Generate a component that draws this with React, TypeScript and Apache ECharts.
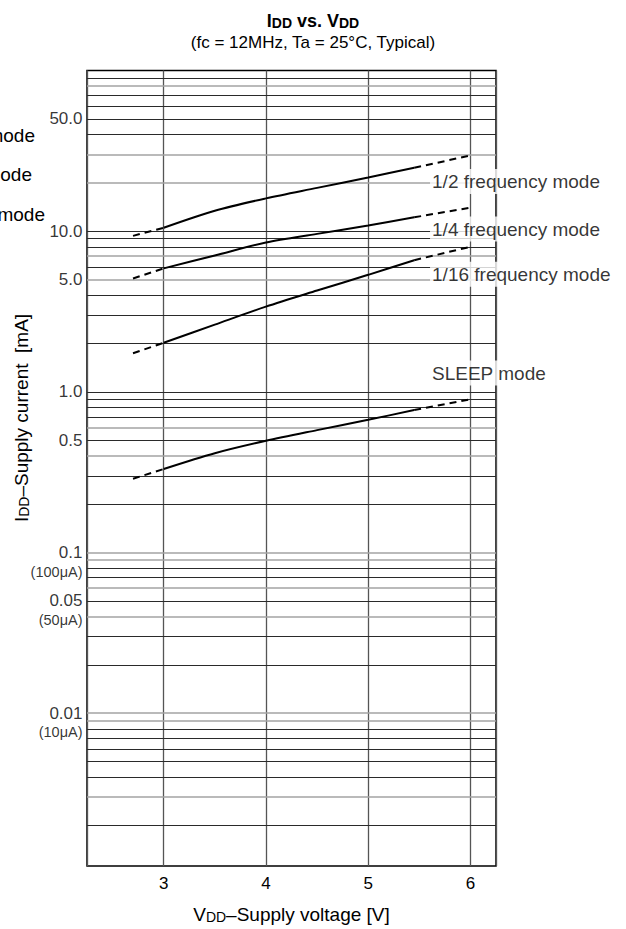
import React, { useEffect, useRef } from 'react';
import * as echarts from 'echarts';

const FONT = '"Liberation Sans", Arial, Helvetica, sans-serif';

// Axis extents
const X_MIN = 2.25;
const X_MAX = 6.25;
const Y_MIN = 0.00112;
const Y_MAX = 100;

// Curve sampling voltages [V]
const solidVoltages = [3.0, 3.5, 4.0, 4.5, 5.0, 5.45];
const lowDashVoltages = [2.7, 3.0];
const highDashVoltages = [5.45, 6.0];

// IDD values [mA]
const halfSolid = [10.5, 13.4, 16.0, 18.6, 21.6, 24.8];
const halfLow = [9.35, 10.5];
const halfHigh = [24.8, 29.6];

const quarterSolid = [5.87, 7.06, 8.5, 9.62, 10.85, 12.2];
const quarterLow = [5.08, 5.87];
const quarterHigh = [12.2, 14.0];

const sixteenthSolid = [2.02, 2.62, 3.39, 4.27, 5.35, 6.6];
const sixteenthLow = [1.74, 2.02];
const sixteenthHigh = [6.6, 8.0];

const sleepSolid = [0.331, 0.415, 0.496, 0.578, 0.67, 0.77];
const sleepLow = [0.288, 0.331];
const sleepHigh = [0.77, 0.9];

// Curve labels
const curveNames = ['1/2 frequency mode', '1/4 frequency mode', '1/16 frequency mode', 'SLEEP mode'];
const labelVoltage = 5.6;
const labelCurrents = [20.4, 10.3, 5.4, 1.31];

// Y tick labels
const yTickValues = [50, 10, 5, 1, 0.5, 0.1, 0.05, 0.01];
const yTickLabels = ['50.0', '10.0', '5.0', '1.0', '0.5', '0.1', '0.05', '0.01'];
const yUnitValues = [0.1, 0.05, 0.01];
const yUnitLabels = ['(100μA)', '(50μA)', '(10μA)'];

// Horizontal grid lines
const darkGridValues = [
  90, 70, 60, 50, 40,
  10, 9, 8, 6, 4, 3, 2,
  1, 0.9, 0.8, 0.7, 0.5, 0.3, 0.2,
  0.08, 0.07, 0.05, 0.03, 0.02,
  0.008, 0.007, 0.006, 0.005, 0.004, 0.002,
];
const lightGridValues = [80, 30, 20, 7, 5, 0.6, 0.4, 0.1, 0.09, 0.06, 0.04, 0.01, 0.009, 0.003];

const pairs = (xs: number[], ys: number[]) => xs.map((x, i) => [x, ys[i]]);

const curveSeries = (name: string, xs: number[], ys: number[], dashed: boolean) => ({
  type: 'line',
  name,
  data: pairs(xs, ys),
  symbol: 'none',
  showSymbol: false,
  smooth: dashed ? false : 0.3,
  clip: false,
  silent: true,
  z: 5,
  lineStyle: { color: '#000', width: 2, type: dashed ? [7, 5] : 'solid' },
});

const gridSeries = (values: number[], color: string, width: number) => ({
  type: 'line',
  data: [],
  silent: true,
  z: 1,
  markLine: {
    silent: true,
    precision: 8,
    symbol: ['none', 'none'],
    label: { show: false },
    animation: false,
    lineStyle: { color, width, type: 'solid' },
    data: values.map((v) => ({ yAxis: v })),
  },
});

export default function App() {
  const ref = useRef<HTMLDivElement>(null);

  useEffect(() => {
    if (!ref.current) return;
    const chart = echarts.init(ref.current, undefined, { renderer: 'svg' });

    const titleMain = { fontSize: 18, fontWeight: 'bold', fontFamily: FONT, fill: '#000', color: '#000', verticalAlign: 'bottom', lineHeight: 22 };
    const titleSmall = { fontSize: 14, fontWeight: 'bold', fontFamily: FONT, fill: '#000', color: '#000', verticalAlign: 'bottom', lineHeight: 22 };
    const nameMain = { fontSize: 19, fontFamily: FONT, color: '#000', fill: '#000', verticalAlign: 'bottom', lineHeight: 22 };
    const nameSmall = { fontSize: 14, fontFamily: FONT, color: '#000', fill: '#000', verticalAlign: 'bottom', lineHeight: 22 };

    const option: any = {
      animation: false,
      backgroundColor: '#fff',
      grid: {
        left: 87,
        top: 70.5,
        width: 409,
        height: 796.5,
        show: true,
        borderColor: '#000',
        borderWidth: 1.5,
        backgroundColor: 'transparent',
        containLabel: false,
      },
      xAxis: {
        type: 'value',
        min: X_MIN,
        max: X_MAX,
        axisLine: { show: false },
        axisTick: { show: false },
        axisLabel: {
          margin: 9,
          fontSize: 17,
          fontFamily: FONT,
          color: '#000',
          formatter: (v: number) => (Number.isInteger(v) ? String(v) : ''),
        },
        splitLine: { show: true, lineStyle: { color: '#555', width: 1.3 } },
        name: '{a|V}{b|DD}{a|–Supply voltage [V]}',
        nameLocation: 'middle',
        nameGap: 36,
        nameTextStyle: { rich: { a: nameMain, b: nameSmall } },
      },
      yAxis: {
        type: 'log',
        logBase: 10,
        min: Y_MIN,
        max: Y_MAX,
        axisLine: { show: false },
        axisTick: { show: false },
        axisLabel: { show: false },
        splitLine: { show: false },
      },
      graphic: [
        {
          type: 'text',
          x: 313,
          y: 19,
          style: {
            text: '{a|I}{b|DD}{a| vs. V}{b|DD}',
            rich: { a: titleMain, b: titleSmall },
            align: 'center',
            verticalAlign: 'middle',
          },
        },
        {
          type: 'text',
          x: 313,
          y: 42,
          style: {
            text: '(fc = 12MHz, Ta = 25°C, Typical)',
            fontSize: 17,
            fontFamily: FONT,
            fill: '#000',
            align: 'center',
            verticalAlign: 'middle',
          },
        },
        {
          type: 'text',
          x: 20,
          y: 418,
          rotation: Math.PI / 2,
          style: {
            text: '{a|I}{b|DD}{a|–Supply current  [mA]}',
            rich: { a: nameMain, b: nameSmall },
            align: 'center',
            verticalAlign: 'middle',
          },
        },
        { type: 'text', x: 35, y: 135, style: { text: 'mode', align: 'right', verticalAlign: 'middle', fontSize: 19, fontFamily: FONT, fill: '#000' } },
        { type: 'text', x: 32, y: 174, style: { text: 'ode', align: 'right', verticalAlign: 'middle', fontSize: 19, fontFamily: FONT, fill: '#000' } },
        { type: 'text', x: 45, y: 214, style: { text: 'mode', align: 'right', verticalAlign: 'middle', fontSize: 19, fontFamily: FONT, fill: '#000' } },
      ],
      series: [
        gridSeries(darkGridValues, '#2a2a2a', 1),
        gridSeries(lightGridValues, '#a3a3a3', 1.6),

        curveSeries('1/2 low', lowDashVoltages, halfLow, true),
        curveSeries('1/2', solidVoltages, halfSolid, false),
        curveSeries('1/2 high', highDashVoltages, halfHigh, true),

        curveSeries('1/4 low', lowDashVoltages, quarterLow, true),
        curveSeries('1/4', solidVoltages, quarterSolid, false),
        curveSeries('1/4 high', highDashVoltages, quarterHigh, true),

        curveSeries('1/16 low', lowDashVoltages, sixteenthLow, true),
        curveSeries('1/16', solidVoltages, sixteenthSolid, false),
        curveSeries('1/16 high', highDashVoltages, sixteenthHigh, true),

        curveSeries('sleep low', lowDashVoltages, sleepLow, true),
        curveSeries('sleep', solidVoltages, sleepSolid, false),
        curveSeries('sleep high', highDashVoltages, sleepHigh, true),

        {
          type: 'scatter',
          data: labelCurrents.map((y, i) => ({ value: [labelVoltage, y], name: curveNames[i] })),
          symbolSize: 1,
          itemStyle: { color: 'rgba(0,0,0,0)' },
          clip: false,
          silent: true,
          z: 10,
          label: {
            show: true,
            position: 'right',
            distance: 0,
            formatter: '{b}',
            fontSize: 19,
            fontFamily: FONT,
            color: '#000',
            backgroundColor: '#fff',
            padding: [3, 2, 3, 2],
          },
        },
        {
          type: 'scatter',
          data: yTickValues.map((y, i) => ({ value: [X_MIN, y], name: yTickLabels[i] })),
          symbolSize: 1,
          itemStyle: { color: 'rgba(0,0,0,0)' },
          clip: false,
          silent: true,
          z: 10,
          label: {
            show: true,
            position: 'left',
            distance: 4,
            formatter: '{b}',
            fontSize: 17,
            fontFamily: FONT,
            color: '#000',
          },
        },
        {
          type: 'scatter',
          data: yUnitValues.map((y, i) => ({ value: [X_MIN, y], name: yUnitLabels[i] })),
          symbolSize: 1,
          itemStyle: { color: 'rgba(0,0,0,0)' },
          clip: false,
          silent: true,
          z: 10,
          label: {
            show: true,
            position: 'left',
            distance: 4,
            offset: [0, 19],
            formatter: '{b}',
            fontSize: 14.5,
            fontFamily: FONT,
            color: '#000',
          },
        },
      ],
    };

    chart.setOption(option);
    return () => chart.dispose();
  }, []);

  return (
    <div
      ref={ref}
      style={{ position: 'fixed', left: 0, top: 0, width: 626, height: 929, background: '#fff' }}
    />
  );
}
